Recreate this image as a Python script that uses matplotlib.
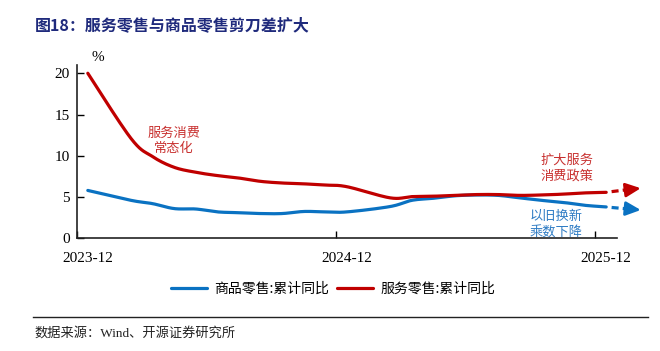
import matplotlib
matplotlib.use("Agg")
import matplotlib.pyplot as plt
from matplotlib.lines import Line2D
import numpy as np

plt.rcParams['font.family'] = ['Liberation Serif', 'Noto Sans CJK SC', 'DejaVu Sans']

months = ['2023-12',
          '2024-02', '2024-03', '2024-04', '2024-05', '2024-06', '2024-07',
          '2024-08', '2024-09', '2024-10', '2024-11', '2024-12',
          '2025-02', '2025-03', '2025-04', '2025-05', '2025-06', '2025-07',
          '2025-08', '2025-09', '2025-10', '2025-11', '2025-12']
goods = [5.8,
         4.6, 4.2, 3.6, 3.55, 3.2, 3.1, 3.0, 3.0, 3.25, 3.2, 3.2,
         3.85, 4.6, 4.85, 5.15, 5.25, 5.2, 4.9, 4.6, 4.35, 4.0, 3.8]
services = [20.0,
            12.1, 9.9, 8.6, 8.0, 7.6, 7.3, 6.9, 6.7, 6.6, 6.45, 6.25,
            4.9, 5.05, 5.1, 5.2, 5.3, 5.3, 5.2, 5.25, 5.35, 5.5, 5.57]
tick_labels = ['2023-12', '2024-12', '2025-12']
legend_labels = ['商品零售:累计同比', '服务零售:累计同比']

BLUE = '#0a72c2'
RED = '#c00000'
NAVY = '#1f2a7c'
CJK = ['Noto Sans CJK SC', 'DejaVu Sans']
MIX = ['Liberation Serif', 'Noto Sans CJK SC']


def mpos(s):
    y, m = s.split('-')
    return (int(y) - 2023) * 12 + int(m) - 12


def smooth(xs, ys, n=20, tension=0.5):
    # Bezier rendering through every data point (like a spreadsheet "smoothed line")
    xs = np.asarray(xs, float)
    ys = np.asarray(ys, float)
    px, py = [xs[0]], [ys[0]]
    for i in range(len(xs) - 1):
        i0 = max(i - 1, 0)
        i3 = min(i + 2, len(xs) - 1)
        c1x = xs[i] + (xs[i + 1] - xs[i0]) * tension / 3
        c1y = ys[i] + (ys[i + 1] - ys[i0]) * tension / 3
        c2x = xs[i + 1] - (xs[i3] - xs[i]) * tension / 3
        c2y = ys[i + 1] - (ys[i3] - ys[i]) * tension / 3
        t = np.linspace(0, 1, n)[1:]
        b = [(1 - t) ** 3, 3 * (1 - t) ** 2 * t, 3 * (1 - t) * t ** 2, t ** 3]
        px.extend(b[0] * xs[i] + b[1] * c1x + b[2] * c2x + b[3] * xs[i + 1])
        py.extend(b[0] * ys[i] + b[1] * c1y + b[2] * c2y + b[3] * ys[i + 1])
    return px, py


x = [mpos(s) for s in months]

fig = plt.figure(figsize=(6.6, 3.51), dpi=100)
ax = fig.add_axes([77 / 660, 1 - 238.3 / 351, 540 / 660, 173.3 / 351])

sx, sy = smooth(x, goods)
l1, = ax.plot(sx, sy, color=BLUE, lw=2.3, solid_joinstyle='round', solid_capstyle='round')
sx, sy = smooth(x, services)
l2, = ax.plot(sx, sy, color=RED, lw=2.3, solid_joinstyle='round', solid_capstyle='round')

# dashed forecast arrows
for col, y0, y1 in [(RED, services[-1], 6.07), (BLUE, goods[-1], 3.43)]:
    xa, xb = x[-1] + 0.25, x[-1] + 1.2
    ya = y0 + (y1 - y0) * 0.17
    yb = y0 + (y1 - y0) * 0.78
    ax.plot([xa, xb], [ya, yb], color=col, lw=2.3, ls=(0, (2.2, 1.3)), clip_on=False)
    ax.annotate('', xy=(x[-1] + 1.6, y1), xytext=(x[-1] + 1.0, y0 + (y1 - y0) * 0.62),
                arrowprops=dict(arrowstyle='-|>,head_length=0.9,head_width=0.42',
                                color=col, lw=2.0, shrinkA=0, shrinkB=0),
                annotation_clip=False)

ax.set_xlim(-0.5, 24.5)
ax.set_ylim(0, 21)
ax.set_yticks([0, 5, 10, 15, 20])
ax.set_xticks([-0.5, 11.5, 23.5])
ax.set_xticklabels([])
ax.set_xticks([mpos(t) for t in tick_labels], minor=True)
ax.set_xticklabels(tick_labels, minor=True)
ax.tick_params(axis='x', which='minor', length=0, pad=10, labelsize=11)
ax.tick_params(axis='x', which='major', direction='in', length=5, width=1)
ax.tick_params(axis='y', direction='in', length=5, width=1, labelsize=11, pad=5)
for s in ['top', 'right']:
    ax.spines[s].set_visible(False)
for s in ['left', 'bottom']:
    ax.spines[s].set_linewidth(1.2)
    ax.spines[s].set_color('#222222')

ax.text(0.15, 21.1, '%', fontsize=11, ha='left', va='bottom', family=MIX)

ax.text(4.0, 11.8, '服务消费\n常态化', color='#c8302f', fontsize=9.5, ha='center', va='center',
        family=CJK, linespacing=1.3)
ax.text(22.2, 8.5, '扩大服务\n消费政策', color='#c8302f', fontsize=9.5, ha='center', va='center',
        family=CJK, linespacing=1.3)
ax.text(21.7, 1.65, '以旧换新\n乘数下降', color='#2f7cc4', fontsize=9.5, ha='center', va='center',
        family=CJK, linespacing=1.3)

fig.legend([l1, l2], legend_labels, loc='center', bbox_to_anchor=(333 / 660, 1 - 289 / 351),
           ncol=2, frameon=False, prop={'family': CJK, 'size': 10}, handlelength=2.6,
           columnspacing=0.6, handletextpad=0.5)

fig.text(35 / 660, 1 - 25 / 351, '图18：服务零售与商品零售剪刀差扩大', color=NAVY, fontsize=11.5,
         fontweight='bold', ha='left', va='center', family=CJK)

fig.add_artist(Line2D([33 / 660, 648 / 660], [1 - 317 / 351, 1 - 317 / 351], color='#222222', lw=1.0))
fig.text(34 / 660, 1 - 333 / 351, '数据来源：Wind、开源证券研究所', color='#222222', fontsize=9.5,
         ha='left', va='center', family=MIX)

fig.savefig('out.png', dpi=100)
